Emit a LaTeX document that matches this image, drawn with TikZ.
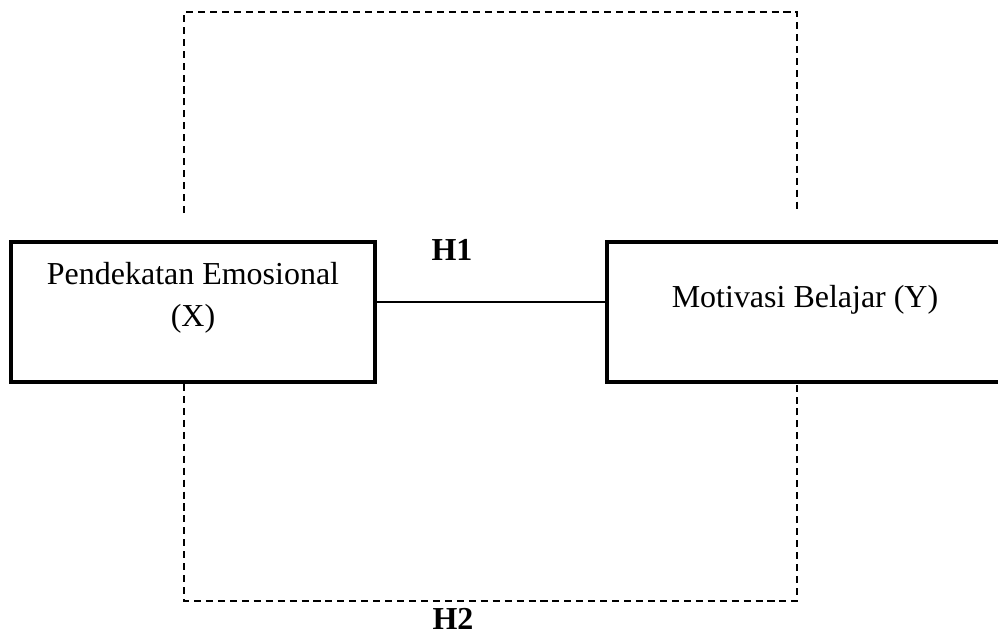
\documentclass[tikz,border=0pt]{standalone}
\usepackage{fontspec}
\setmainfont{Liberation Serif}
\usetikzlibrary{positioning}

\begin{document}
\begin{tikzpicture}[
    x=0.02cm, y=-0.02cm,
    every node/.style={align=center, font=\fontsize{18.2}{24}\selectfont},
    varbox/.style={rectangle, draw=black, line width=2.3pt, minimum width=7.28cm, minimum height=2.8cm, inner sep=0pt},
    link/.style={line width=1pt},
    hyp/.style={dashed, line width=0.85pt, dash pattern=on 4pt off 2.8pt},
    hlabel/.style={font=\fontsize{18.2}{24}\selectfont\bfseries, inner sep=0pt}
]
\useasboundingbox (0,0) rectangle (998,632);

% Variables
\node[varbox] (x) at (193,312) {};
\node (xtext) at (193,298) {Pendekatan Emosional\\(X)};
\node[varbox, minimum width=7.92cm] (y) at (805,312) {};
\node (ytext) at (805,300) {Motivasi Belajar (Y)};

% H1
\draw[link] ([yshift=0.2cm]x.east) -- ([yshift=0.2cm]y.west);
\node[hlabel, anchor=base] (h1) at (452,260) {H1};

% H2
\draw[hyp] ([xshift=-0.18cm, yshift=0.54cm]x.north) |- (185,12) -| ([xshift=-0.16cm, yshift=0.54cm]y.north);
\draw[hyp] ([xshift=-0.18cm]x.south) |- (185,601) -| ([xshift=-0.16cm]y.south);
\node[hlabel, anchor=base] (h2) at (453,629) {H2};

\end{tikzpicture}
\end{document}
